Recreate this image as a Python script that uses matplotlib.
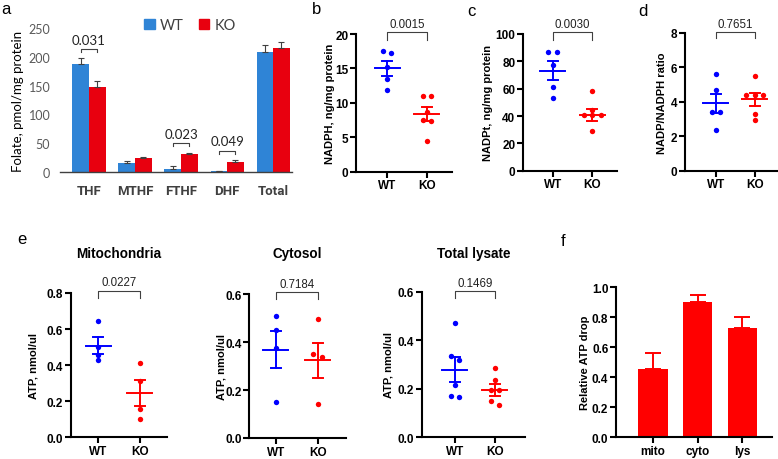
import numpy as np
import matplotlib
matplotlib.use("Agg")
import matplotlib.pyplot as plt
from matplotlib.patches import Patch

# ---------------- data ----------------
# panel a
folate_cats = ['THF', 'MTHF', 'FTHF', 'DHF', 'Total']
folate_wt = [188, 15, 5, 2, 208]
folate_wt_err = [10, 4.5, 5, 0.5, 12]
folate_ko = [147, 24, 30.5, 16.8, 215]
folate_ko_err = [11, 2.5, 3, 4.6, 11]
folate_p = {'THF': '0.031', 'FTHF': '0.023', 'DHF': '0.049'}
folate_bracket = {'THF': 213, 'FTHF': 50, 'DHF': 37}

groups = ['WT', 'KO']
# panel b  NADPH
nadph_wt = [17.6, 17.3, 15.2, 13.5, 11.9]
nadph_ko = [10.95, 10.95, 8.7, 7.5, 7.4, 4.5]
nadph_mean = [15.0, 8.38]
nadph_sem = [1.13, 0.98]
# panel c  NADPt
nadpt_wt = [87, 87, 77.5, 61.5, 53]
nadpt_ko = [58, 44.5, 40.7, 40.7, 40.7, 29.3]
nadpt_mean = [73.2, 41.0]
nadpt_sem = [7.1, 4.3]
# panel d  ratio
ratio_wt = [5.62, 4.71, 3.4, 3.4, 2.38]
ratio_ko = [5.48, 4.4, 4.4, 4.4, 3.3, 2.92]
ratio_mean = [3.93, 4.16]
ratio_sem = [0.55, 0.38]
# panel e
mito_wt = [0.643, 0.502, 0.455, 0.428]
mito_ko = [0.412, 0.314, 0.157, 0.101]
mito_mean = [0.508, 0.246]
mito_sem = [0.048, 0.073]
cyto_wt = [0.51, 0.448, 0.375, 0.148]
cyto_ko = [0.495, 0.348, 0.338, 0.141]
cyto_mean = [0.368, 0.323]
cyto_sem = [0.078, 0.072]
lys_wt = [0.47, 0.336, 0.32, 0.215, 0.171, 0.165]
lys_ko = [0.284, 0.236, 0.195, 0.195, 0.15, 0.133]
lys_mean = [0.279, 0.195]
lys_sem = [0.05, 0.023]
# panel f
drop_cats = ['mito', 'cyto', 'lys']
drop_vals = [0.455, 0.90, 0.727]
drop_err = [0.107, 0.049, 0.077]

# ---------------- style ----------------
W, H = 778, 460
fig = plt.figure(figsize=(W / 100, H / 100), dpi=100)
ARIAL = ['Liberation Sans', 'DejaVu Sans']
CALIBRI = ['Lato', 'DejaVu Sans']
CALIBRI_B = ['Roboto', 'DejaVu Sans']
BLUE_BAR = '#2F84D6'
RED_BAR = '#E8000F'
BLUE = '#0000FF'
RED = '#FF0000'
BR = '#404040'


def add_ax(left, top, right, bottom):
    return fig.add_axes([left / W, 1 - bottom / H, (right - left) / W, (bottom - top) / H])


def px_scale(ax):
    pos = ax.get_position()
    x0, x1 = ax.get_xlim()
    y0, y1 = ax.get_ylim()
    return pos.width * W / (x1 - x0), pos.height * H / (y1 - y0)


def swarm(vals, ypx, xpx, thr=4.5, gap=8.5):
    vals = np.asarray(vals, float)
    order = np.argsort(-vals)
    offs = np.zeros(len(vals))
    clusters = []
    for i in order:
        if clusters and abs(vals[clusters[-1][0]] - vals[i]) * ypx < thr:
            clusters[-1].append(i)
        else:
            clusters.append([i])
    for cl in clusters:
        k = len(cl)
        for j, idx in enumerate(cl):
            offs[idx] = (j - (k - 1) / 2) * gap / xpx
    return offs


def prism_axes(ax, ylim, yticks, fmt):
    ax.set_ylim(*ylim)
    ax.set_yticks(yticks)
    ax.set_yticklabels([fmt.format(t) for t in yticks], fontsize=8.5,
                       fontweight='bold', family=ARIAL)
    for s in ['top', 'right']:
        ax.spines[s].set_visible(False)
    for s in ['left', 'bottom']:
        ax.spines[s].set_linewidth(1.5)
    ax.tick_params(axis='both', length=4, width=1.5, direction='out', pad=1.5)
    ax.set_facecolor('none')


def dotplot(ax, data, means, sems, ylim, yticks, fmt, xlim, ylabel, lab_x,
            ptxt, btop, bdrop):
    ax.set_xlim(*xlim)
    prism_axes(ax, ylim, yticks, fmt)
    ax.set_xticks([0, 1])
    ax.set_xticklabels(groups, fontsize=8.5, fontweight='bold', family=ARIAL)
    xpx, ypx = px_scale(ax)
    half = 12.5 / xpx
    cap = 5 / xpx
    for i, (vals, m, s, c) in enumerate(zip(data, means, sems, [BLUE, RED])):
        offs = swarm(vals, ypx, xpx)
        ax.scatter(i + offs, vals, s=15, color=c, linewidths=0, zorder=3,
                   clip_on=False)
        ax.plot([i - half, i + half], [m, m], color=c, lw=1.4, zorder=4)
        ax.plot([i, i], [m - s, m + s], color=c, lw=1.4, zorder=4)
        ax.plot([i - cap, i + cap], [m + s, m + s], color=c, lw=1.4, zorder=4)
        ax.plot([i - cap, i + cap], [m - s, m - s], color=c, lw=1.4, zorder=4)
    ax.plot([0, 0, 1, 1], [bdrop, btop, btop, bdrop], color=BR, lw=0.8,
            clip_on=False)
    ax.text(0.5, btop + (ylim[1] - ylim[0]) * 0.015, ptxt, ha='center',
            va='bottom', fontsize=8.3, family=ARIAL, color='#222222')
    ax.set_ylabel(ylabel, fontsize=8, fontweight='bold', family=ARIAL,
                  va='center')
    pos = ax.get_position()
    ax.yaxis.set_label_coords((lab_x / W - pos.x0) / pos.width, 0.5)


# ---------------- panel a ----------------
axa = add_ax(60, 29, 292, 173)
x = np.arange(len(folate_cats))
bw = 0.36
axa.bar(x - bw / 2, folate_wt, bw, color=BLUE_BAR, label='WT', zorder=2)
axa.bar(x + bw / 2, folate_ko, bw, color=RED_BAR, label='KO', zorder=2)
axa.errorbar(x - bw / 2, folate_wt, yerr=[np.zeros(5), folate_wt_err], fmt='none',
             ecolor=BR, elinewidth=0.8, capsize=2.2, capthick=0.8, zorder=3)
axa.errorbar(x + bw / 2, folate_ko, yerr=[np.zeros(5), folate_ko_err], fmt='none',
             ecolor=BR, elinewidth=0.8, capsize=2.2, capthick=0.8, zorder=3)
axa.set_xlim(-0.63, 4.41)
axa.set_ylim(0, 250)
axa.set_yticks(range(0, 251, 50))
axa.set_yticklabels([str(v) for v in range(0, 251, 50)], fontsize=9,
                    family=CALIBRI, color='#595959')
axa.set_xticks(x)
axa.set_xticklabels(folate_cats, fontsize=9.5, fontweight='bold', family=CALIBRI_B,
                    color='#404040')
axa.tick_params(axis='both', length=0)
axa.tick_params(axis='y', pad=7)
axa.tick_params(axis='x', pad=9)
for s in ['top', 'right', 'left']:
    axa.spines[s].set_visible(False)
axa.spines['bottom'].set_color('#404040')
axa.spines['bottom'].set_linewidth(1.0)
for cat, p in folate_p.items():
    i = folate_cats.index(cat)
    yb = folate_bracket[cat]
    axa.plot([i - bw / 2, i - bw / 2, i + bw / 2, i + bw / 2],
             [yb - 5, yb, yb, yb - 5], color=BR, lw=0.8, clip_on=False)
    axa.text(i, yb + 6, p, ha='center', va='bottom', fontsize=9.5, family=CALIBRI,
             color='#222222')
axa.set_ylabel('Folate, pmol/mg protein', fontsize=9.5, family=CALIBRI, va='center')
pa = axa.get_position()
axa.yaxis.set_label_coords((18 / W - pa.x0) / pa.width, 0.5)
leg = axa.legend(handles=[Patch(color=BLUE_BAR, label='WT'),
                          Patch(color=RED_BAR, label='KO')],
                 loc='center', bbox_to_anchor=(190 / W, 1 - 26 / H),
                 bbox_transform=fig.transFigure, ncol=2, frameon=False,
                 handlelength=0.75, handleheight=0.75, handletextpad=0.35,
                 columnspacing=1.0, prop={'family': CALIBRI, 'size': 10.5})
for t in leg.get_texts():
    t.set_color('#404040')

# ---------------- panels b, c, d ----------------
axb = add_ax(356, 35, 452, 172.7)
dotplot(axb, [nadph_wt, nadph_ko], nadph_mean, nadph_sem, (0, 20),
        [0, 5, 10, 15, 20], '{:g}', (-0.78, 1.63), 'NADPH, ng/mg protein', 330,
        '0.0015', 20.25, 19.2)
axc = add_ax(523, 35, 617, 171.7)
dotplot(axc, [nadpt_wt, nadpt_ko], nadpt_mean, nadpt_sem, (0, 100),
        [0, 20, 40, 60, 80, 100], '{:g}', (-0.75, 1.63), 'NADPt, ng/mg protein',
        488, '0.0030', 101.2, 95.8)
axd = add_ax(685, 34, 777, 171.7)
dotplot(axd, [ratio_wt, ratio_ko], ratio_mean, ratio_sem, (0, 8),
        [0, 2, 4, 6, 8], '{:g}', (-0.79, 1.57), 'NADP/NADPH ratio', 661.7,
        '0.7651', 8.08, 7.69)

# ---------------- panel e ----------------
axe1 = add_ax(70.7, 294, 166.7, 438.3)
dotplot(axe1, [mito_wt, mito_ko], mito_mean, mito_sem, (0, 0.8),
        [0, 0.2, 0.4, 0.6, 0.8], '{:.1f}', (-0.66, 1.64), 'ATP, nmol/ul', 33,
        '0.0227', 0.813, 0.772)
axe2 = add_ax(249.3, 295, 346, 439)
dotplot(axe2, [cyto_wt, cyto_ko], cyto_mean, cyto_sem, (0, 0.6),
        [0, 0.2, 0.4, 0.6], '{:.1f}', (-0.64, 1.68), 'ATP, nmol/ul', 221.7,
        '0.7184', 0.607, 0.579)
axe3 = add_ax(421.7, 292.7, 525, 438.3)
dotplot(axe3, [lys_wt, lys_ko], lys_mean, lys_sem, (0, 0.6),
        [0, 0.2, 0.4, 0.6], '{:.1f}', (-0.83, 1.75), 'ATP, nmol/ul', 388.3,
        '0.1469', 0.604, 0.574)
for ax, title in [(axe1, 'Mitochondria'), (axe2, 'Cytosol'), (axe3, 'Total lysate')]:
    pos = ax.get_position()
    fig.text(pos.x0 + pos.width / 2, 1 - 254.5 / H, title, ha='center', va='center',
             fontsize=9.75, fontweight='bold', family=ARIAL)

# ---------------- panel f ----------------
axf = add_ax(616, 288.3, 771.7, 438.3)
xf = np.arange(len(drop_cats))
axf.set_xlim(-0.83, 2.66)
prism_axes(axf, (0, 1.0), [0, 0.2, 0.4, 0.6, 0.8, 1.0], '{:.1f}')
axf.bar(xf, drop_vals, 0.66, color=RED, zorder=2)
axf.errorbar(xf, drop_vals, yerr=[np.zeros(3), drop_err], fmt='none', ecolor=RED,
             elinewidth=1.4, capsize=5.8, capthick=1.4, zorder=3)
axf.set_xticks(xf)
axf.set_xticklabels(drop_cats, fontsize=8.5, fontweight='bold', family=ARIAL)
axf.set_ylabel('Relative ATP drop', fontsize=8, fontweight='bold', family=ARIAL,
               va='center')
pf = axf.get_position()
axf.yaxis.set_label_coords((585 / W - pf.x0) / pf.width, 0.5)

# ---------------- panel letters ----------------
for letter, px, py in [('a', 6, 9), ('b', 316.7, 10), ('c', 471.7, 11),
                       ('d', 643, 12), ('e', 21.7, 240), ('f', 563.3, 241.7)]:
    fig.text(px / W, 1 - py / H, letter, ha='center', va='center', fontsize=12,
             family=ARIAL)

fig.savefig('out.png', dpi=100)
